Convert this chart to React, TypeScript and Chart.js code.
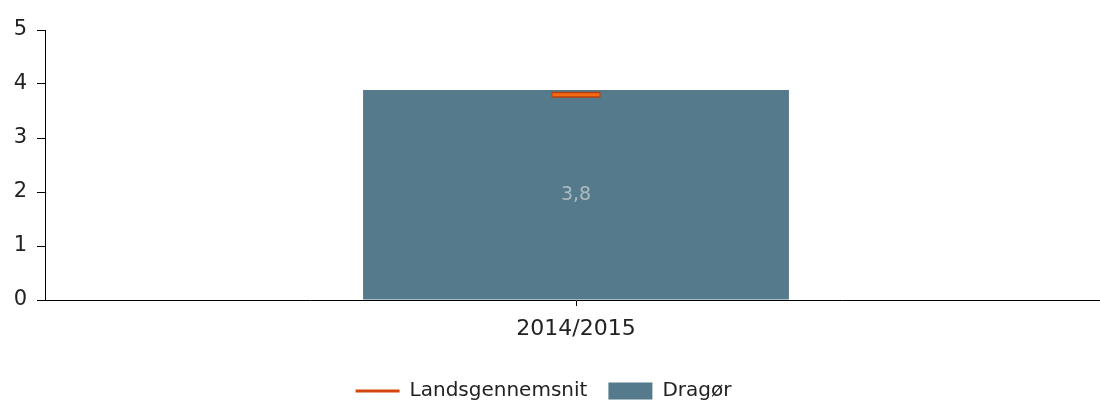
import React, { useEffect, useRef } from "react";
import { Chart, registerables } from "chart.js";

Chart.register(...registerables);

const categories = ["2014/2015"];
const dragoerValues = [3.89];
const landsgennemsnitValues = [3.8];
const yTicks = [0, 1, 2, 3, 4, 5];

const FONT = "'DejaVu Sans', Verdana, sans-serif";
const BAR_COLOR = "#557a8b";

const formatValue = (v: number) => {
  const t = Math.floor(v * 10 + 1e-9) / 10;
  return t.toFixed(1).replace(".", ",");
};

const barLabelPlugin = {
  id: "barLabel",
  afterDatasetsDraw(chart: any) {
    const ctx = chart.ctx;
    chart.data.datasets.forEach((ds: any, i: number) => {
      if (ds.type !== "bar") return;
      const meta = chart.getDatasetMeta(i);
      meta.data.forEach((el: any, j: number) => {
        const v = ds.data[j];
        const cy = (el.y + el.base) / 2;
        ctx.save();
        ctx.font = `19px ${FONT}`;
        ctx.fillStyle = "#aebac0";
        ctx.textAlign = "center";
        ctx.textBaseline = "middle";
        ctx.fillText(formatValue(v), el.x, cy);
        ctx.restore();
      });
    });
  },
};

export default function App() {
  const ref = useRef<HTMLCanvasElement | null>(null);

  useEffect(() => {
    document.body.style.margin = "0";
    document.body.style.overflow = "hidden";
    const canvas = ref.current;
    if (!canvas) return;
    const chart = new Chart(canvas, {
      type: "bar",
      data: {
        labels: categories,
        datasets: [
          {
            type: "line",
            label: "Landsgennemsnit",
            data: landsgennemsnitValues,
            showLine: false,
            pointStyle: "line",
            pointRadius: 23.5,
            pointHoverRadius: 23.5,
            pointBorderColor: "#f76a12",
            pointBackgroundColor: "#f76a12",
            pointBorderWidth: 3,
            borderColor: "#d2460e",
            order: 0,
          } as any,
          {
            type: "line",
            label: "__outline",
            data: landsgennemsnitValues,
            showLine: false,
            pointStyle: "line",
            pointRadius: 24.5,
            pointHoverRadius: 24.5,
            pointBorderColor: "#b4410f",
            pointBackgroundColor: "#b4410f",
            pointBorderWidth: 6,
            order: 1,
          } as any,
          {
            type: "bar",
            label: "Dragør",
            data: dragoerValues,
            backgroundColor: BAR_COLOR,
            borderWidth: 0,
            barPercentage: 0.401,
            categoryPercentage: 1,
            pointStyle: "rect",
            order: 2,
          } as any,
        ],
      },
      options: {
        animation: false,
        responsive: true,
        maintainAspectRatio: false,
        events: [],
        layout: { autoPadding: false, padding: { top: 30, left: -20, right: 0, bottom: -6 } },
        scales: {
          x: {
            offset: true,
            grid: {
              offset: false,
              drawOnChartArea: false,
              drawTicks: true,
              tickLength: 6,
              color: "#000",
            },
            border: { color: "#000", width: 1 },
            ticks: {
              color: "#222",
              font: { family: FONT, size: 22 },
              padding: 10,
            },
            afterFit: (scale: any) => {
              scale.height = 60;
              scale.paddingLeft = 0;
              scale.paddingRight = 0;
            },
          },
          y: {
            min: 0,
            max: 5,
            afterBuildTicks: (scale: any) => {
              scale.ticks = yTicks.map((v) => ({ value: v }));
            },
            grid: {
              drawOnChartArea: false,
              drawTicks: true,
              tickLength: 8,
              color: "#000",
            },
            border: { color: "#000", width: 1 },
            ticks: {
              color: "#222",
              font: { family: FONT, size: 21 },
              padding: 10,
            },
            afterFit: (scale: any) => {
              scale.width = 65;
            },
          },
        },
        plugins: {
          tooltip: { enabled: false },
          legend: {
            position: "bottom",
            labels: {
              usePointStyle: true,
              pointStyleWidth: 44,
              boxHeight: 17,
              padding: 21,
              color: "#222",
              font: { family: FONT, size: 20 },
              generateLabels: (c: any) => {
                const items = (Chart.defaults.plugins.legend.labels as any).generateLabels(c);
                return items
                  .filter((it: any) => it.text !== "__outline")
                  .map((it: any) => {
                    if (it.text === "Landsgennemsnit") {
                      it.strokeStyle = "#d2460e";
                      it.lineWidth = 3;
                    } else {
                      it.fillStyle = BAR_COLOR;
                      it.strokeStyle = BAR_COLOR;
                      it.lineWidth = 0;
                    }
                    return it;
                  });
              },
            },
          },
        },
      } as any,
      plugins: [barLabelPlugin],
    });
    return () => chart.destroy();
  }, []);

  return (
    <div style={{ position: "absolute", left: 0, top: 0, width: 1107, height: 405 }}>
      <canvas ref={ref} />
    </div>
  );
}
